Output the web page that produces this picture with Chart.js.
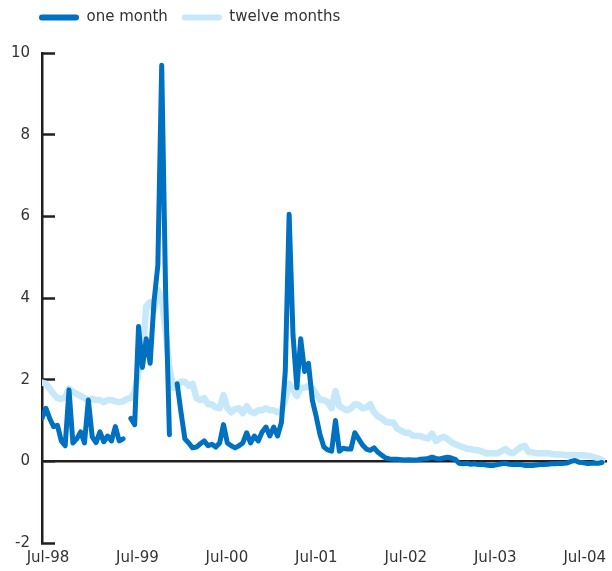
<!DOCTYPE html>
<html>
<head>
<meta charset="utf-8">
<script src="https://cdn.jsdelivr.net/npm/chart.js@4.4.1/dist/chart.umd.min.js"></script>
<style>
html,body{margin:0;padding:0;background:#fff;}
#wrap{width:612px;height:571px;position:relative;}
</style>
</head>
<body>
<div id="wrap"><canvas id="chart"></canvas></div>
<script>
// Values.
// One point roughly every 16 days, first point in early June 1998.
const startMonth = -0.8;   // months after Jul-98
const stepMonth = 0.518;

const oneMonth = [
  1.05, 1.3, 1.05, 0.85, 0.88, 0.5, 0.38, 1.75, 0.45, 0.55,
  0.72, 0.45, 1.5, 0.6, 0.46, 0.72, 0.48, 0.62, 0.5, 0.85,
  0.5, 0.55, null, 1.05, 0.9, 3.3, 2.3, 3.0, 2.4, 3.9,
  4.8, 9.7, 4.2, 0.65, null, 1.9, 1.2, 0.55, 0.45, 0.33,
  0.35, 0.43, 0.5, 0.38, 0.42, 0.35, 0.45, 0.9, 0.45, 0.38,
  0.33, 0.38, 0.45, 0.7, 0.45, 0.62, 0.5, 0.72, 0.84, 0.62,
  0.84, 0.62, 0.95, 2.2, 6.05, 3.1, 1.8, 3.0, 2.2, 2.4,
  1.5, 1.1, 0.65, 0.35, 0.28, 0.25, 1.0, 0.25, 0.32, 0.3,
  0.3, 0.7, 0.55, 0.4, 0.3, 0.27, 0.33, 0.22, 0.15, 0.08,
  0.06, 0.05, 0.05, 0.04, 0.03, 0.04, 0.03, 0.03, 0.05, 0.06,
  0.07, 0.1, 0.07, 0.06, 0.08, 0.1, 0.08, 0.05, -0.05, -0.06,
  -0.05, -0.07, -0.06, -0.08, -0.07, -0.09, -0.1, -0.1, -0.08, -0.06,
  -0.05, -0.07, -0.08, -0.07, -0.08, -0.1, -0.1, -0.1, -0.09, -0.08,
  -0.08, -0.07, -0.06, -0.06, -0.05, -0.05, -0.04, 0.0, 0.02, -0.02,
  -0.03, -0.05, -0.05, -0.04, -0.05, -0.03
];

const twelveMonths = [
  1.93, 1.9, 1.78, 1.65, 1.55, 1.53, 1.57, 1.78, 1.7, 1.65,
  1.6, 1.55, 1.5, 1.53, 1.5, 1.5, 1.45, 1.5, 1.5, 1.47,
  1.45, 1.47, 1.53, 1.55, 1.7, 2.2, 2.6, 3.8, 3.9, 3.7,
  4.2, 4.0, 3.2, 2.3, 1.8, 1.85, 1.95, 1.95, 1.85, 1.9,
  1.55, 1.5, 1.55, 1.4, 1.4, 1.32, 1.3, 1.62, 1.3, 1.2,
  1.28, 1.3, 1.18, 1.35, 1.22, 1.18, 1.25, 1.25, 1.3, 1.25,
  1.25, 1.2, 1.25, 1.5, 1.9, 1.75, 1.6, 1.8, 1.8, 1.85,
  1.8, 1.65, 1.5, 1.5, 1.45, 1.3, 1.72, 1.35, 1.3, 1.25,
  1.3, 1.4, 1.38, 1.3, 1.32, 1.4, 1.2, 1.1, 1.05, 0.97,
  0.95, 0.95, 0.8, 0.75, 0.7, 0.7, 0.63, 0.62, 0.62, 0.58,
  0.56, 0.68, 0.5, 0.56, 0.6, 0.55, 0.47, 0.42, 0.38, 0.35,
  0.31, 0.3, 0.28, 0.27, 0.24, 0.2, 0.2, 0.2, 0.2, 0.25,
  0.3, 0.22, 0.2, 0.28, 0.35, 0.38, 0.23, 0.22, 0.2, 0.2,
  0.2, 0.2, 0.18, 0.17, 0.17, 0.16, 0.15, 0.15, 0.15, 0.15,
  0.15, 0.14, 0.13, 0.1, 0.07, 0.03
];

const tickMonths = [0, 12, 24, 36, 48, 60, 72];
const tickLabels = ['Jul-98', 'Jul-99', 'Jul-00', 'Jul-01', 'Jul-02', 'Jul-03', 'Jul-04'];

const darkBlue = '#0070c0';
const lightBlue = '#c6e8f8';
const axisColor = '#231f20';
const textColor = '#333333';
const fontFamily = '"DejaVu Sans", Verdana, sans-serif';

function toPoints(values){
  return values.map((v, i) => ({ x: startMonth + i * stepMonth, y: v }));
}

// move the legend up/right so it sits like the original (plot keeps its place)
const legendShift = {
  id: 'legendShift',
  afterLayout(chart){
    chart.legend.left = 25;
    chart.legend.top = -4;
  }
};

new Chart(document.getElementById('chart'), {
  type: 'line',
  data: {
    datasets: [
      {
        label: 'one month',
        data: toPoints(oneMonth),
        borderColor: darkBlue,
        backgroundColor: darkBlue,
        borderWidth: 5,
        pointRadius: 0,
        tension: 0,
        spanGaps: false,
        borderJoinStyle: 'round',
        borderCapStyle: 'round'
      },
      {
        label: 'twelve months',
        data: toPoints(twelveMonths),
        borderColor: lightBlue,
        backgroundColor: lightBlue,
        borderWidth: 6.5,
        pointRadius: 0,
        tension: 0,
        borderJoinStyle: 'round',
        borderCapStyle: 'round'
      }
    ]
  },
  options: {
    responsive: true,
    maintainAspectRatio: false,
    animation: false,
    layout: { padding: { top: 14, right: 0, bottom: 0, left: 0 } },
    plugins: {
      tooltip: { enabled: false },
      legend: {
        display: true,
        position: 'top',
        align: 'start',
        labels: {
          boxWidth: 40,
          boxHeight: 6,
          padding: 14,
          color: textColor,
          font: { family: fontFamily, size: 15 },
          useBorderRadius: true,
          generateLabels(chart){
            return chart.data.datasets.map((ds, i) => ({
              text: ds.label,
              fillStyle: ds.borderColor,
              strokeStyle: ds.borderColor,
              lineWidth: 0,
              borderRadius: 3,
              fontColor: textColor,
              hidden: false,
              datasetIndex: i
            }));
          }
        }
      }
    },
    scales: {
      x: {
        type: 'linear',
        min: -0.8,
        max: 75,
        afterBuildTicks(scale){
          scale.ticks = tickMonths.map(v => ({ value: v }));
        },
        afterFit(scale){ scale.height = 28; },
        ticks: {
          autoSkip: false,
          maxRotation: 0,
          padding: 6,
          color: textColor,
          font: { family: fontFamily, size: 15 },
          callback(value){
            const k = tickMonths.indexOf(value);
            return k >= 0 ? tickLabels[k] : '';
          }
        },
        grid: { display: false, drawTicks: false },
        border: { display: false }
      },
      y: {
        min: -2,
        max: 10,
        afterFit(scale){
          scale.width = 42;
          // the big label padding should not push the plot up from the bottom
          scale.paddingTop = 0;
          scale.paddingBottom = 0;
        },
        ticks: {
          stepSize: 2,
          padding: 25,
          color: textColor,
          font: { family: fontFamily, size: 15 }
        },
        grid: {
          drawTicks: true,
          tickLength: -13,
          tickColor: axisColor,
          tickWidth: 2.5,
          color: ctx => (ctx.tick && ctx.tick.value === 0) ? axisColor : 'rgba(0,0,0,0)',
          lineWidth: ctx => (ctx.tick && ctx.tick.value === 0) ? 2.5 : 1
        },
        border: { display: true, color: axisColor, width: 2.5 }
      }
    }
  },
  plugins: [legendShift]
});
</script>
</body>
</html>
